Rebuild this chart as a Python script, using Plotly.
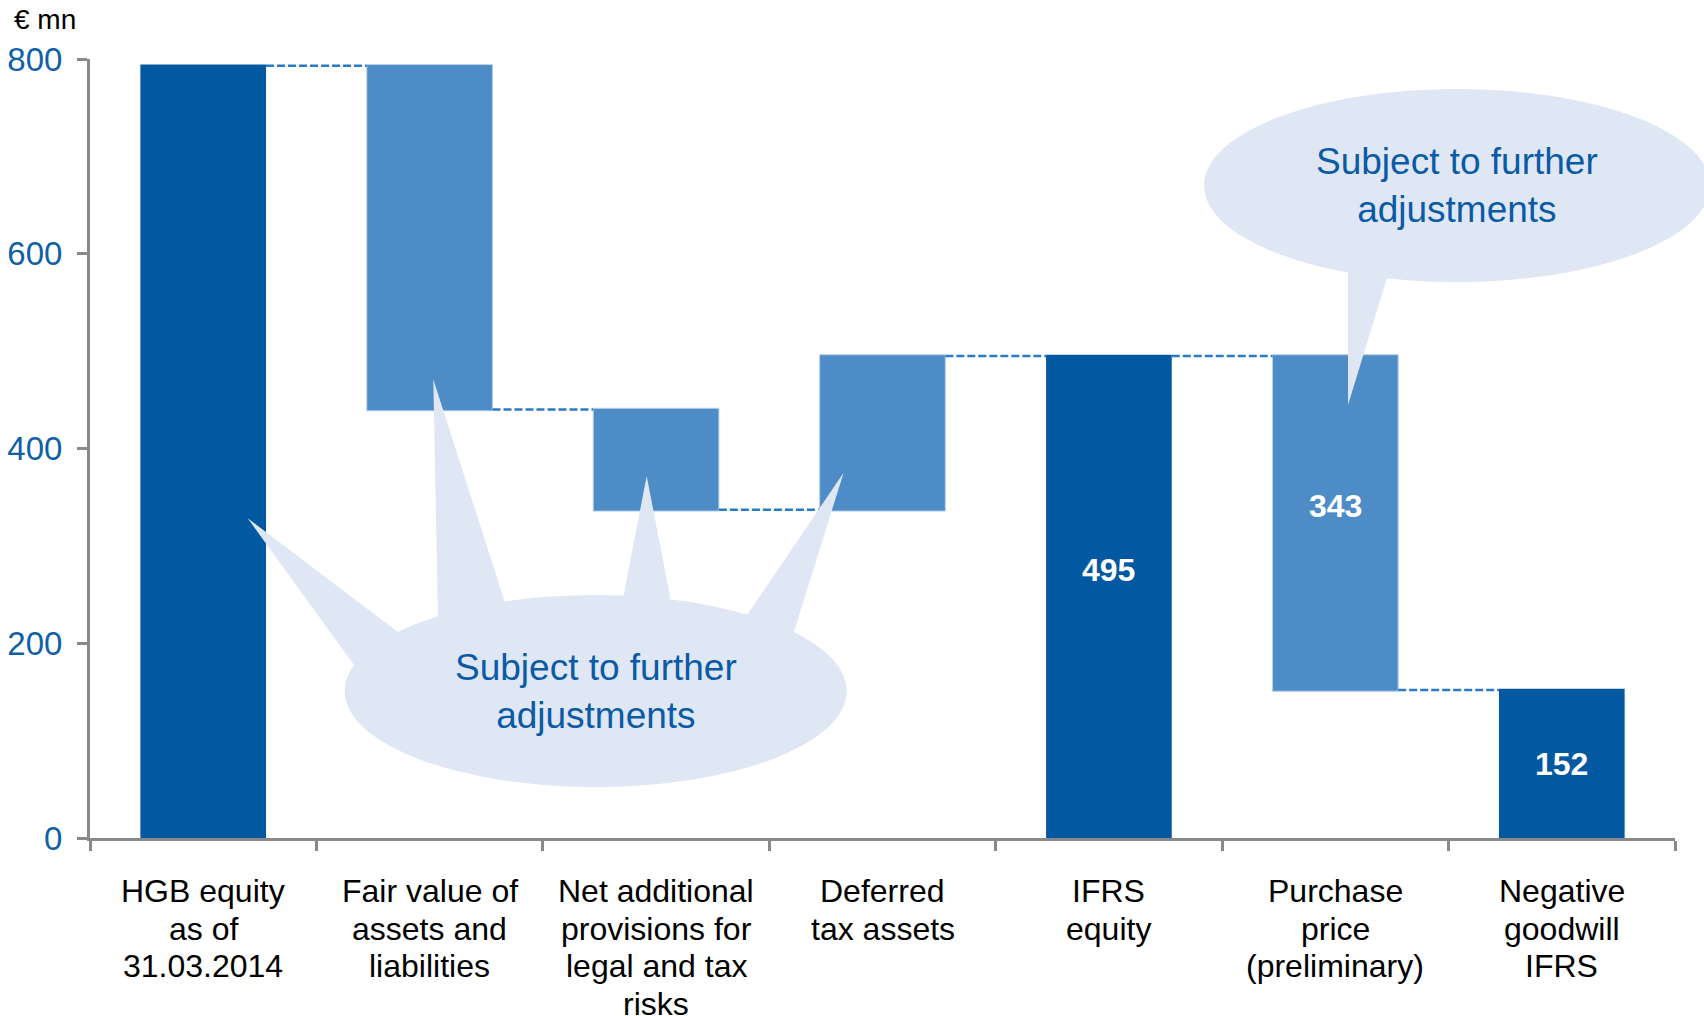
import plotly.graph_objects as go

# ---------------- data ----------------
categories = [
    "HGB equity<br>as of<br>31.03.2014",
    "Fair value of<br>assets and<br>liabilities",
    "Net additional<br>provisions for<br>legal and tax<br>risks",
    "Deferred<br>tax assets",
    "IFRS<br>equity",
    "Purchase<br>price<br>(preliminary)",
    "Negative<br>goodwill<br>IFRS",
]
measures = ["absolute", "relative", "relative", "relative", "total", "relative", "total"]
values = [793, -353, -103, 158, 0, -343, 0]
labelled_idx = [4, 5, 6]
label_texts = ["495", "343", "152"]
y_ticks = [0, 200, 400, 600, 800]
y_unit = "€ mn"
callout_text = "Subject to further<br>adjustments"

# ---------------- style / layout constants ----------------
W, H = 1704, 1016
ML, MR, MT, MB = 90, 29, 59, 178
PW, PH = W - ML - MR, H - MT - MB
FONT = "Liberation Sans, Arial, sans-serif"
DARK = "#0358A2"
LIGHT = "#4E8CC8"
CALLOUT = "#DFE7F5"
TXTBLUE = "#0B5AA6"
AXIS = "#898989"
CAT_FIRST_LINE_PX = 891   # pixel centre of first category-label line
CAT_LINE_STEP_PX = 37.5   # line spacing of category labels

def px(x):
    return (x - ML) / PW

def py(y):
    return (MT + PH - y) / PH

# cumulative levels for the labels
levels = []
run = 0
for m, v in zip(measures, values):
    if m == "absolute":
        base, top = 0, v
        run = v
    elif m == "total":
        base, top = 0, run
    else:
        base, top = run, run + v
        run = run + v
    levels.append((min(base, top), max(base, top)))

label_frac = [0.555, 0.55, 0.5]

xs = list(range(len(categories)))

fig = go.Figure()
fig.add_trace(go.Waterfall(
    x=xs, y=values, measure=measures,
    increasing=dict(marker=dict(color=LIGHT, line=dict(color="#B9CFEA", width=1))),
    decreasing=dict(marker=dict(color=LIGHT, line=dict(color="#B9CFEA", width=1))),
    totals=dict(marker=dict(color=DARK, line=dict(color=DARK, width=0))),
    connector=dict(mode="between", line=dict(color="#2A7BC4", width=2.5, dash="8px,3px")),
    hoverinfo="skip", showlegend=False,
))

shapes = []
# bottom callout
ell1 = (595.7, 691, 251, 96)
tails1 = [
    [(247.7, 518.3), (397.5, 631.7), (353.3, 664)],
    [(433.3, 379.3), (504.4, 600.7), (437.9, 616.7)],
    [(646.7, 476), (670.6, 599.3), (623.5, 595.7)],
    [(843.6, 472.7), (794, 631.7), (747.7, 614)],
]
ell2 = (1457, 185.5, 253, 96.5)
tails2 = [[(1348, 405), (1387, 278), (1348, 272)]]

for (cx, cy, rx, ry), tails in [(ell1, tails1), (ell2, tails2)]:
    shapes.append(dict(type="circle", xref="paper", yref="paper",
                       x0=px(cx - rx), x1=px(cx + rx), y0=py(cy + ry), y1=py(cy - ry),
                       fillcolor=CALLOUT, line=dict(width=0), layer="above"))
    for t in tails:
        pts = [t[0], t[1], (cx, cy), t[2]]
        path = "M " + " L ".join(f"{px(a):.5f},{py(b):.5f}" for a, b in pts) + " Z"
        shapes.append(dict(type="path", xref="paper", yref="paper", path=path,
                           fillcolor=CALLOUT, line=dict(width=0), layer="above"))

annotations = []
for (cx, cy, rx, ry) in [ell1, ell2]:
    annotations.append(dict(x=px(cx), y=py(cy), xref="paper", yref="paper",
                            text=callout_text, showarrow=False,
                            font=dict(family=FONT, size=37, color=TXTBLUE),
                            xanchor="center", yanchor="middle"))

for i, t, f in zip(labelled_idx, label_texts, label_frac):
    lo, hi = levels[i]
    annotations.append(dict(x=i, y=lo + f * (hi - lo), xref="x", yref="y",
                            text=f"<b>{t}</b>", showarrow=False,
                            font=dict(family=FONT, size=32, color="white"),
                            xanchor="center", yanchor="middle"))

# category labels, line by line (tighter leading than Plotly's tick labels)
for i, cat in enumerate(categories):
    for k, line in enumerate(cat.split("<br>")):
        annotations.append(dict(x=i, y=py(CAT_FIRST_LINE_PX + k * CAT_LINE_STEP_PX),
                                xref="x", yref="paper", text=line, showarrow=False,
                                xanchor="center", yanchor="middle",
                                font=dict(family=FONT, size=32, color="black")))

annotations.append(dict(x=px(12), y=py(19.5), xref="paper", yref="paper",
                        text=y_unit, showarrow=False, xanchor="left", yanchor="middle",
                        font=dict(family=FONT, size=28, color="black")))

fig.update_layout(
    width=W, height=H,
    margin=dict(l=ML, r=MR, t=MT, b=MB, pad=0, autoexpand=False),
    plot_bgcolor="white", paper_bgcolor="white",
    waterfallgap=0.445,
    shapes=shapes, annotations=annotations,
    font=dict(family=FONT),
    xaxis=dict(
        range=[-0.5, len(categories) - 0.5], tickmode="array", tickvals=xs,
        ticktext=[""] * len(categories),
        ticks="", showgrid=False, zeroline=False, automargin=False,
        showline=True, linecolor=AXIS, linewidth=3,
        minor=dict(ticks="outside", ticklen=10, tickwidth=3, tickcolor=AXIS,
                   tick0=-0.5, dtick=1, showgrid=False),
    ),
    yaxis=dict(
        range=[0, 800], tickmode="array", tickvals=y_ticks, automargin=False,
        ticks="outside", ticklen=10, tickwidth=3, tickcolor=AXIS,
        showgrid=False, zeroline=False,
        showline=True, linecolor=AXIS, linewidth=3,
        tickfont=dict(family=FONT, size=33, color="#1060A8"),
        ticklabelstandoff=8,
    ),
)

fig.write_html("out.html", config={"displayModeBar": False},
               post_script="document.body.style.margin='0';")
